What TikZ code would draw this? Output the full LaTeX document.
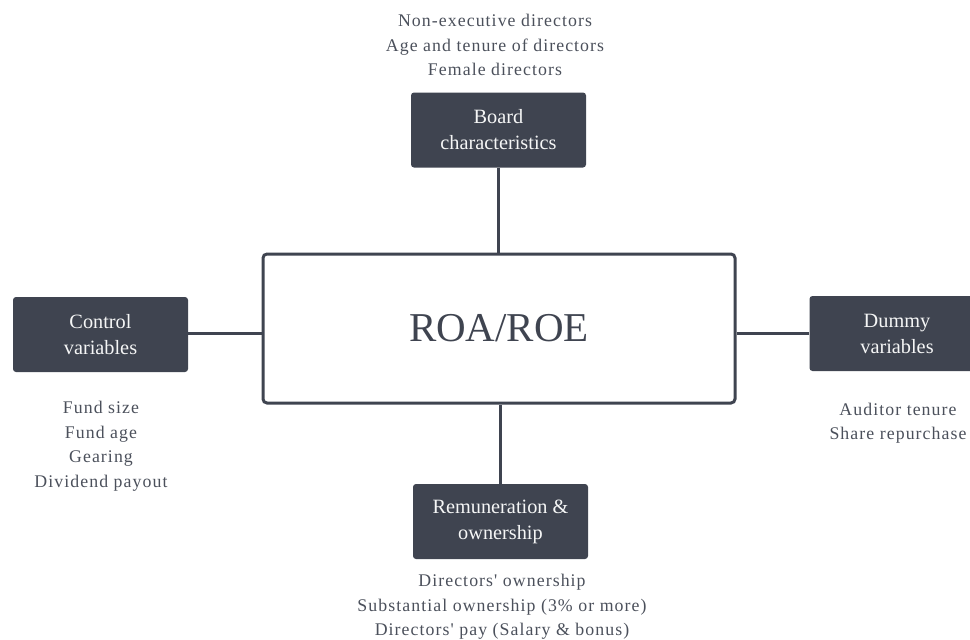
\documentclass[tikz,border=0pt]{standalone}
\usepackage{fontspec}
\setmainfont{Liberation Serif}
\newfontfamily\spaced[LetterSpace=6]{Liberation Serif}
\definecolor{slate}{HTML}{3F4450}
\definecolor{txtgray}{HTML}{4B505B}
\begin{document}
\begin{tikzpicture}[x=1pt,y=-1pt,
  darkbox/.style={fill=slate, draw=none, rounded corners=3pt, minimum width=175pt, minimum height=75pt,
    text=white!95!slate, align=center, font=\fontsize{20.3}{26}\selectfont, inner sep=0pt},
  mainbox/.style={draw=slate, line width=3pt, rounded corners=4pt, minimum width=472pt, minimum height=149pt,
    text=slate, font=\fontsize{41}{48}\selectfont, inner sep=0pt},
  lbl/.style={align=center, text=txtgray, font=\spaced\fontsize{17.8}{24.5}\selectfont, inner sep=0pt},
  conn/.style={draw=slate, line width=3pt}]
\useasboundingbox (0,0) rectangle (970,640);
\node[mainbox] (main) at (499,328.5) {ROA/ROE};
\node[darkbox] (board) at (498.5,130) {Board\\characteristics};
\node[darkbox] (control) at (100.5,334.5) {Control\\variables};
\node[darkbox] (dummy) at (897,333.5) {Dummy\\variables};
\node[darkbox] (remun) at (500.5,521.5) {Remuneration \&\\ownership};
\draw[conn] (board.south) -- (board.south |- main.north);
\draw[conn] (remun.north) -- (remun.north |- main.south);
\draw[conn] (control.east |- 0,333) -- (main.west |- 0,333);
\draw[conn] (dummy.west |- 0,333) -- (main.east |- 0,333);
\node[lbl] (toptext) at (495,45) {Non-executive directors\\Age and tenure of directors\\Female directors};
\node[lbl] (lefttext) at (101,446) {Fund size\\Fund age\\Gearing\\Dividend payout};
\node[lbl] (righttext) at (898,423) {Auditor tenure\\Share repurchase};
\node[lbl] (bottext) at (502,607) {Directors' ownership\\Substantial ownership (3\% or more)\\Directors' pay (Salary \& bonus)};
\end{tikzpicture}
\end{document}
